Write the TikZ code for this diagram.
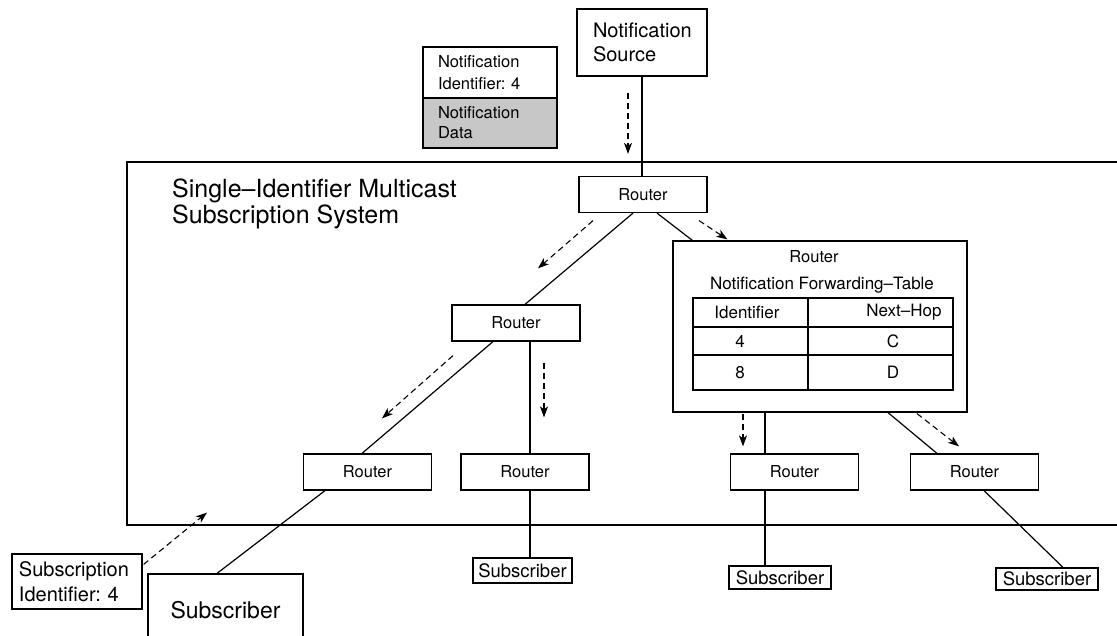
\documentclass[tikz,border=0pt]{standalone}
\usepackage{fontspec}
\setmainfont{TeX Gyre Heros}
\usetikzlibrary{arrows.meta,calc}
\frenchspacing

\begin{document}
\begin{tikzpicture}[x=1pt,y=-1pt,
  box/.style={draw, rectangle, inner sep=0pt, line width=1.2pt},
  routerbox/.style={box, minimum width=128pt, minimum height=36pt, font=\fontsize{16.5}{20}\selectfont},
  subbox/.style={box, minimum width=101pt, minimum height=24pt, font=\fontsize{18.5}{20}\selectfont},
  link/.style={line width=1.2pt},
  flow/.style={line width=1.1pt, dash pattern=on 6pt off 4pt, -{Stealth[length=11pt,width=8pt,inset=3pt]}},
  tabtext/.style={font=\fontsize{17}{20}\selectfont, inner sep=0pt}
]
\clip (0,0) rectangle (1117,636);
\fill[white] (0,0) rectangle (1117,636);

% subscription system frame, open to the right
\draw[line width=1.2pt] (1117,162) -- (127,162) -- (127,525) -- (1117,525);
\node[anchor=north west, inner sep=0pt, align=left, font=\fontsize{25}{26}\selectfont] (title) at (172,179)
  {Single--Identifier Multicast\\Subscription System};

% source and notification packet
\node[box, minimum width=130pt, minimum height=67pt, text width=98pt, inner xsep=16pt, align=left,
      font=\fontsize{20}{24}\selectfont] (src) at (642,42.5) {Notification\\Source};
\node[box, minimum width=134pt, minimum height=51pt, text width=104pt, inner xsep=15pt, align=left,
      font=\fontsize{16.5}{22}\selectfont] (pkthdr) at (490,72.5) {Notification\\Identifier: 4};
\node[box, fill=black!22, minimum width=134pt, minimum height=50pt, text width=104pt, inner xsep=15pt, align=left,
      font=\fontsize{16.5}{20}\selectfont] (pktdata) at (490,123) {Notification\\Data};

% routers
\node[routerbox] (r0) at (643,194.5) {Router};
\node[routerbox] (r1) at (516,323) {Router};
\node[routerbox] (r2) at (367.5,472) {Router};
\node[routerbox] (r3) at (525,472) {Router};
\node[routerbox] (r4) at (794.5,472) {Router};
\node[routerbox] (r5) at (974.5,472) {Router};

% router with its forwarding table
\node[box, minimum width=294pt, minimum height=171pt] (rb) at (820,326.5) {};
\node[font=\fontsize{16.5}{20}\selectfont, inner sep=0pt] (rbname) at (814,257) {Router};
\node[tabtext] (tabtitle) at (822,285) {Notification Forwarding--Table};
\draw[line width=1.2pt] (693,298) rectangle (953,390);
\draw[line width=1.2pt] (693,327) -- (953,327) (693,355) -- (953,355) (808,298) -- (808,390);
\node[tabtext] (hid) at (747,312.5) {Identifier};
\node[tabtext] (hnh) at (904,312.5) {Next--Hop};
\node[tabtext] (c41) at (740,341) {4};
\node[tabtext] (c42) at (893,341) {C};
\node[tabtext] (c81) at (740,372.5) {8};
\node[tabtext] (c82) at (893,372.5) {D};

% subscribers
\node[subbox, minimum width=99pt, minimum height=25pt] (s3) at (522.5,570.5) {Subscriber};
\node[subbox, minimum width=102pt, minimum height=23pt] (s4) at (780,577.5) {Subscriber};
\node[subbox, minimum width=102pt, minimum height=22pt] (s5) at (1047,579) {Subscriber};
\node[box, minimum width=155pt, minimum height=72pt, font=\fontsize{23}{26}\selectfont] (sb) at (225.5,610) {Subscriber};
\node[box, minimum width=130pt, minimum height=55pt, text width=116pt, inner xsep=7pt, align=left,
      font=\fontsize{20}{25}\selectfont] (sub) at (77,581.5) {Subscription\\Identifier: 4};

% links
\draw[link] (src.south) -- (src.south |- r0.north);
\draw[link] ($(r0.south)+(-10,0)$) -- ($(r1.north)+(9,0)$);
\draw[link] ($(r0.south)+(14,0)$) -- ($(rb.north west)+(20,0)$);
\draw[link] ($(r1.south)+(-23,0)$) -- ($(r2.north)+(-5.5,0)$);
\draw[link] ($(r1.south)+(14,0)$) -- ($(r3.north)+(5,0)$);
\draw[link] ($(r2.south)+(-42.5,0)$) -- ($(sb.north)+(-8.5,0)$);
\draw[link] ($(r3.south)+(5,0)$) -- ($(s3.north)+(7.5,0)$);
\draw[link] ($(rb.south)+(-55,0)$) -- ($(r4.north)+(-29.5,0)$);
\draw[link] ($(r4.south)+(-29.5,0)$) -- ($(s4.north)+(-15,0)$);
\draw[link] ($(rb.south)+(68,0)$) -- ($(r5.north)+(-37.5,0)$);
\draw[link] ($(r5.south)+(9.5,0)$) -- ($(s5.north)+(16,0)$);

% notification and subscription flow
\draw[flow] ($(src.south)+(-14,16)$) -- ($(r0.north)+(-15,-22)$);
\draw[flow] ($(r0.south)+(-50,7.5)$) -- ($(r1.north)+(22,-36)$);
\draw[flow] ($(r0.south)+(56,7.5)$) -- ($(rb.north west)+(55,-1)$);
\draw[flow] ($(r1.south)+(-63,14)$) -- ($(r2.north)+(14.5,-35)$);
\draw[flow] ($(r1.south)+(28,21)$) -- ($(r3.north)+(19,-36)$);
\draw[flow] ($(rb.south)+(-77,1)$) -- ($(r4.north)+(-51.5,-7)$);
\draw[flow] ($(rb.south)+(97,1)$) -- ($(r5.north)+(-15.5,-7)$);
\coordinate (entry) at ($(r2.south west)+(-96,22)$);
\draw[flow] ($(sub.north east)+(1,11)$) -- (entry);
\end{tikzpicture}
\end{document}
